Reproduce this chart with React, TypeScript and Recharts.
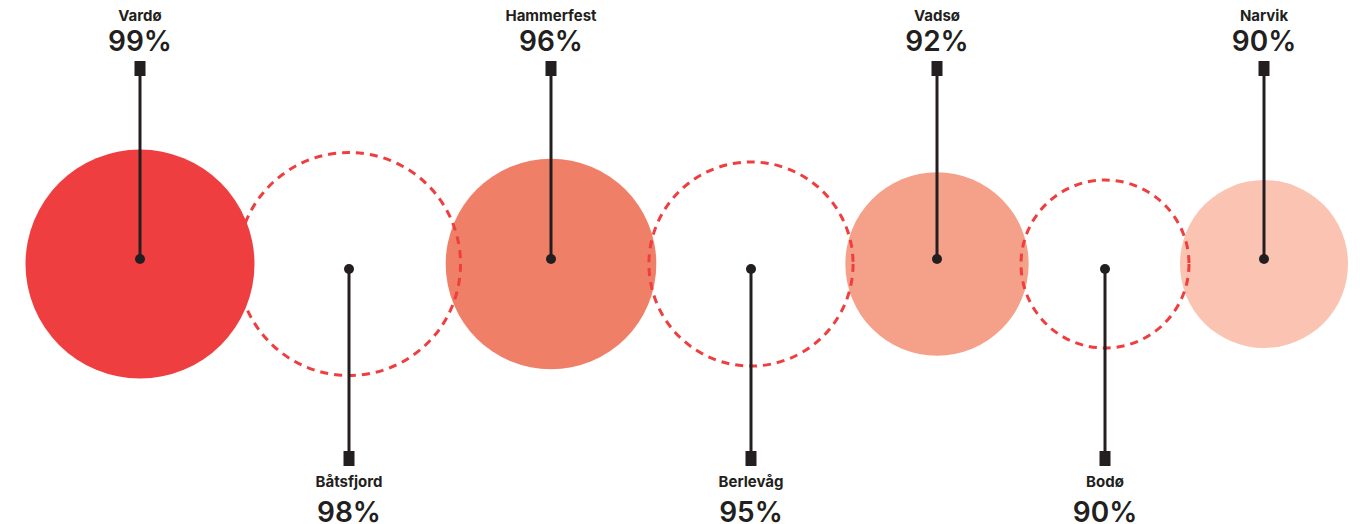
import { ScatterChart, Scatter, XAxis, YAxis, ZAxis } from "recharts";

const towns = ["Vardø", "Båtsfjord", "Hammerfest", "Berlevåg", "Vadsø", "Bodø", "Narvik"];
const shares = [99, 98, 96, 95, 92, 90, 90];
// horizontal placement along the strip (hundreds of px in the original)
const places = [1.4, 3.49, 5.51, 7.51, 9.37, 11.05, 12.64];
const fills = ["#ef3e3f", null, "#f07f68", null, "#f5a18a", null, "#fac3b2"];

const INK = "#231f20";
const RED = "#ef3e3f";
const FONT = "Inter, 'Noto Sans', sans-serif";

const rows = towns.map((town, i) => ({
  town,
  value: shares[i],
  x: places[i],
  y: 0,
  fill: fills[i],
  up: i % 2 === 0,
}));

// draw order: filled discs, dashed rings on top, first disc last
const drawRows = [
  ...rows.filter((r, i) => r.fill && i > 0),
  ...rows.filter((r) => !r.fill),
  rows[0],
];

const Bubble = (props: any) => {
  const { cx, cy, size, payload } = props;
  const r = Math.sqrt(size / Math.PI);
  const up = payload.up;
  const dotY = up ? cy - 5 : cy + 5;
  const boxY = up ? cy - 203 : cy + 187;
  return (
    <g>
      {payload.fill ? (
        <circle cx={cx} cy={cy} r={r} fill={payload.fill} />
      ) : (
        <circle cx={cx} cy={cy} r={r} fill="none" stroke={RED} strokeWidth={3} strokeDasharray="8 6" />
      )}
      <line x1={cx} y1={dotY} x2={cx} y2={up ? boxY + 14 : boxY} stroke={INK} strokeWidth={3} />
      <circle cx={cx} cy={dotY} r={5} fill={INK} />
      <rect x={cx - 5.5} y={boxY} width={11} height={15} fill={INK} />
      <text x={cx} y={up ? cy - 243 : cy + 223} textAnchor="middle" fontFamily={FONT} fontWeight={700} fontSize={15} fill={INK}>
        {payload.town}
      </text>
      <text x={cx} y={up ? cy - 213 : cy + 258} textAnchor="middle" fontFamily={FONT} fontWeight={600} fontSize={28} fill={INK}>
        {payload.value}%
      </text>
    </g>
  );
};

export default function App() {
  return (
    <div style={{ position: "absolute", left: 0, top: 0, background: "#fff" }}>
      <ScatterChart width={1360} height={524} margin={{ top: 4, right: 0, bottom: 0, left: 0 }}>
        <XAxis type="number" dataKey="x" domain={[0, 13.6]} hide />
        <YAxis type="number" dataKey="y" domain={[-1, 1]} hide />
        <ZAxis type="number" dataKey="value" domain={[90, 99]} range={[Math.PI * 84 * 84, Math.PI * 114.5 * 114.5]} />
        <Scatter data={drawRows} shape={Bubble} isAnimationActive={false} />
      </ScatterChart>
    </div>
  );
}
